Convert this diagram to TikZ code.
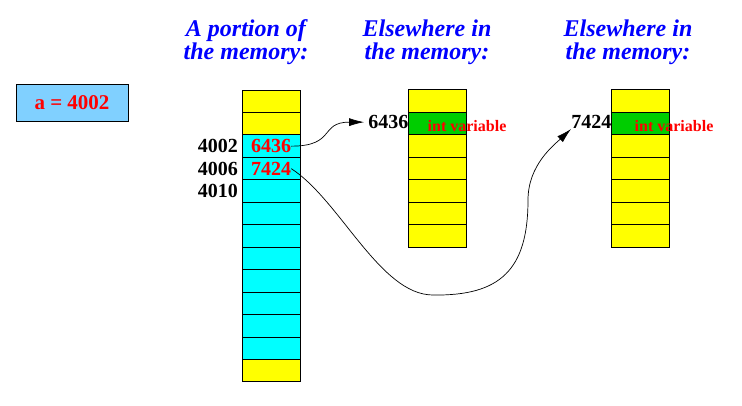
\documentclass[tikz,border=0pt]{standalone}
\usepackage{fontspec}
\setmainfont{Liberation Serif}
\usepackage{tikz}
\usetikzlibrary{arrows.meta}
\definecolor{myblue}{RGB}{0, 0, 255}
\definecolor{myred}{RGB}{255, 0, 0}
\definecolor{mygreen}{RGB}{0, 205, 0}
\definecolor{mycyan}{RGB}{0, 255, 255}
\definecolor{myyellow}{RGB}{255, 255, 0}
\definecolor{boxblue}{RGB}{128, 208, 255}

\begin{document}
\begin{tikzpicture}[
    x = 1pt, y = -1pt,
    cell/.style = {draw, line width = 1pt, minimum width = 58pt, minimum height = 22.46pt, inner sep = 0pt, outer sep = 0pt},
    title/.style = {text = myblue, align = center, font = \fontsize{24}{23}\selectfont\bfseries\itshape},
    addr/.style = {font = \fontsize{20}{24}\selectfont\bfseries, inner sep = 0pt},
    val/.style = {addr, text = myred},
    note/.style = {font = \fontsize{16}{18}\selectfont\bfseries, text = myred, inner sep = 0pt},
    link/.style = {line width = 0.7pt, -{Latex[length = 15pt, width = 8pt]}}
]
\useasboundingbox (0,0) rectangle (742,405);

\node[title] (h1) at (246,42) {A portion of\\the memory:};
\node[title] (h2) at (427,42) {Elsewhere in\\the memory:};
\node[title] (h3) at (628,42) {Elsewhere in\\the memory:};

\node[draw, line width = 1pt, fill = boxblue, minimum width = 112pt, minimum height = 37pt, font = \fontsize{21}{24}\selectfont\bfseries, text = myred] (a) at (72,102.5) {a = 4002};

\foreach \c [count = \i from 0] in {myyellow, myyellow, mycyan, mycyan, mycyan, mycyan, mycyan, mycyan, mycyan, mycyan, mycyan, mycyan, myyellow}
    \node[cell, fill = \c] (p\i) at (271, 101.23 + 22.46*\i) {};
\foreach \c [count = \i from 0] in {myyellow, mygreen, myyellow, myyellow, myyellow, myyellow, myyellow}
    \node[cell, fill = \c] (m\i) at (437.5, 101.2 + 22.43*\i) {};
\foreach \c [count = \i from 0] in {myyellow, mygreen, myyellow, myyellow, myyellow, myyellow, myyellow}
    \node[cell, fill = \c] (r\i) at (640.5, 101.2 + 22.43*\i) {};

\node[addr, anchor = east, xshift = -4pt] (l1) at (p2.west) {4002};
\node[addr, anchor = east, xshift = -4pt] (l2) at (p3.west) {4006};
\node[addr, anchor = east, xshift = -4pt] (l3) at (p4.west) {4010};
\node[val] (v1) at (p2) {6436};
\node[val] (v2) at (p3) {7424};

\node[addr, anchor = east, yshift = 1.5pt] (t1) at (m1.west) {6436};
\node[addr, anchor = east, yshift = 1.5pt] (t2) at (r1.west) {7424};
\node[note, anchor = west, xshift = 19pt, yshift = -2pt] (n1) at (m1.west) {int variable};
\node[note, anchor = west, xshift = 23pt, yshift = -2pt] (n2) at (r1.west) {int variable};

\draw[link] (v1.east) .. controls +(45,0) and +(-45,0) .. ([xshift = -4pt]t1.west);
\draw[link] (v2.east) .. controls (340,200) and (380,295) .. (433,295)
    .. controls (500,296) and (528,270) .. (528,200)
    .. controls (528,165) and (554,145) .. (t2.south west);
\end{tikzpicture}
\end{document}
